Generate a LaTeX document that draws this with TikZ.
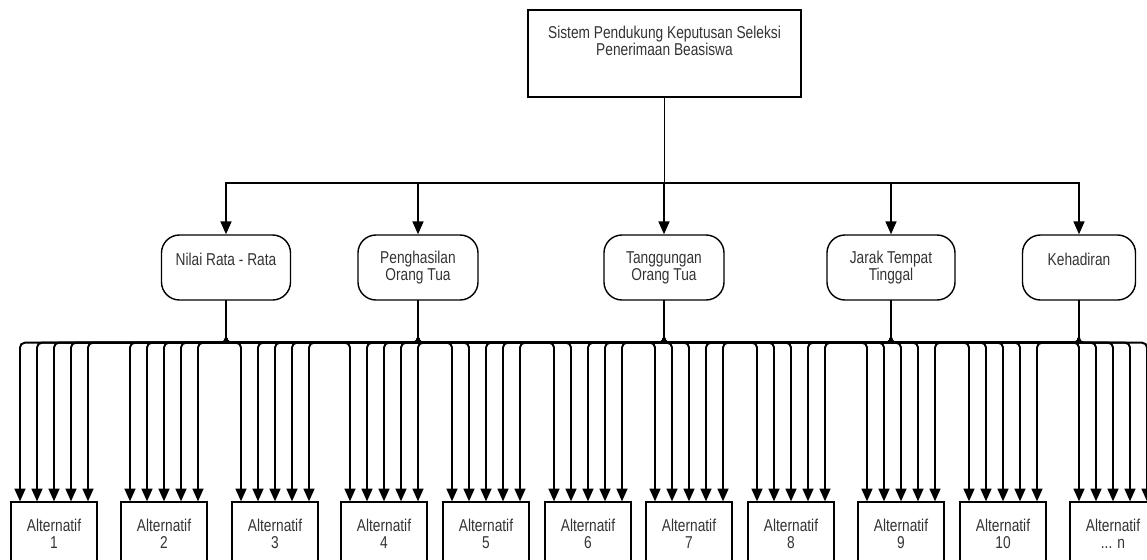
\documentclass[tikz,border=0pt]{standalone}
\usepackage{fontspec}
\setmainfont{Liberation Sans}[FakeStretch=0.8]
\usetikzlibrary{arrows.meta}

\begin{document}
\begin{tikzpicture}[
      x=0.025cm, y=-0.025cm,
      every node/.style={font=\fontsize{12.2pt}{12.1pt}\selectfont, text=black!80, align=center, inner sep=0pt},
      rootbox/.style={draw, line width=1.2pt, minimum width=6.825cm, minimum height=2.175cm},
      critbox/.style={draw, line width=1pt, rounded corners=0.45cm, minimum height=1.625cm},
      altbox/.style={draw, line width=0.8pt, minimum width=2.15cm, minimum height=1.6cm},
      link/.style={line width=1.4pt, -{Triangle[length=0.32cm, width=0.27cm]}},
      fan/.style={link, rounded corners=0.12cm}
    ]
    \useasboundingbox (0,0) rectangle (1147,560);
    \clip (0,0) rectangle (1147,560);

    \node[rootbox] (spk) at (664.5,53.5) {Sistem Pendukung Keputusan Seleksi\\Penerimaan Beasiswa\\[6pt]\mbox{}};

    % kriteria
    \node[critbox, minimum width=3.225cm] (nilai) at (226,267.5) {Nilai Rata - Rata\\\mbox{}};
    \node[critbox, minimum width=3.0cm] (hasil) at (418,267.5) {Penghasilan\\Orang Tua};
    \node[critbox, minimum width=3.0cm] (tanggung) at (664,267.5) {Tanggungan\\Orang Tua};
    \node[critbox, minimum width=3.2cm] (jarak) at (891,267.5) {Jarak Tempat\\Tinggal};
    \node[critbox, minimum width=2.825cm] (hadir) at (1079,267.5) {Kehadiran\\\mbox{}};

    % alternatif
    \foreach \i/\x/\lab in {1/54/1, 2/164/2, 3/275/3, 4/384/4, 5/486/5, 6/588/6,
                            7/689/7, 8/791/8, 9/901/9, 10/1003/10, 11/1113/{... n}}
      \node[altbox] (alt\i) at (\x,534) {Alternatif\\\lab};

    \foreach \c in {nilai, hasil, tanggung, jarak, hadir}
      \draw[link] (spk.south) -- ++(0,85) -| (\c.north);

    \foreach \c/\dx in {nilai/-34, hasil/-17, tanggung/0, jarak/17, hadir/34}
      \foreach \i in {1,...,11}
        \draw[fan] (\c.south) -- ++(0,42) -| ([xshift=\dx*0.025cm]alt\i.north);
  \end{tikzpicture}
\end{document}
